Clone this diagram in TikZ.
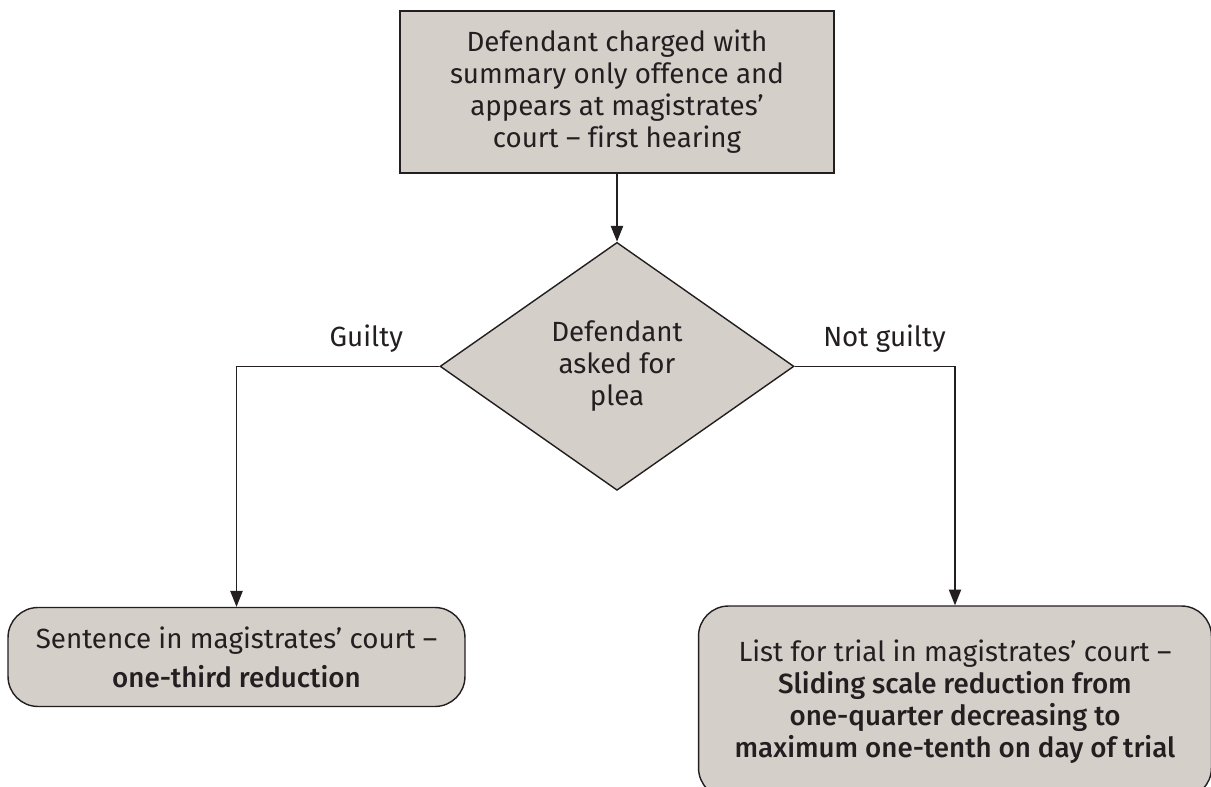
\documentclass[tikz,border=0pt]{standalone}
\usepackage{fontspec}
\setmainfont{Fira Sans}[BoldFont=* Medium, Ligatures=CommonOff]
\usepackage{xcolor}
\usetikzlibrary{shapes,arrows,positioning,calc,arrows.meta}
\definecolor{boxfill}{RGB}{213,207,202}
\definecolor{inkline}{RGB}{35,31,32}

\begin{document}
\begin{tikzpicture}[x=0.02cm, y=-0.02cm, node distance=1.36cm, auto,
        font=\fontsize{15.8}{18.2}\selectfont,
        box/.style={draw=inkline, fill=boxfill, line width=0.8pt, align=center, text=inkline, inner sep=0pt},
        flow/.style={-{Triangle[length=9pt, width=7pt]}, draw=inkline, line width=0.8pt}]
        \useasboundingbox (0,0) rectangle (1211,787);
        \node [box, rectangle, minimum width=8.68cm, minimum height=3.24cm] (Charge) at (617,92) {Defendant charged with\\summary only offence and\\appears at magistrates'\\court -- first hearing};
        \node [box, diamond, aspect=1.43, minimum width=7.08cm, minimum height=4.96cm, below=of Charge] (Plea) {Defendant\\asked for\\plea};
        \node [box, rectangle, rounded corners=0.6cm, minimum width=9.14cm, minimum height=1.98cm] (Sentence) at (236.5,657) {Sentence in magistrates' court --\\[4pt]\textbf{one-third reduction}};
        \node [box, rectangle, rounded corners=0.6cm, minimum width=10.26cm, minimum height=3.84cm] (Trial) at (955,702) {List for trial in magistrates' court --\\\textbf{Sliding scale reduction from}\\\textbf{one-quarter decreasing to}\\\textbf{maximum one-tenth on day of trial}};
        \draw [flow] (Charge) -- (Plea);
        \draw [flow] (Plea.west) -| node [pos=0.18, above=4pt, text=inkline] {Guilty} (Sentence.north);
        \draw [flow] (Plea.east) -| node [pos=0.28, above=4pt, text=inkline] {Not guilty} (Trial.north);
    \end{tikzpicture}
\end{document}
